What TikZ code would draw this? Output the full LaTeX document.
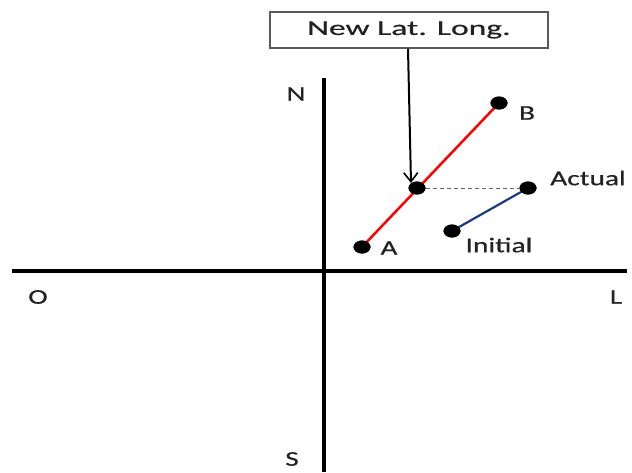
\documentclass[tikz,border=0pt]{standalone}
\usepackage{fontspec}
\setmainfont{Carlito}
\usetikzlibrary{arrows.meta,shapes.geometric}
\definecolor{txt}{HTML}{222222}
\definecolor{navy}{HTML}{1F3A7A}
\newcommand\wlab[1]{\scalebox{1.4}[1]{#1}}
\newcommand\wbox[1]{\scalebox{1.6}[1]{#1}}
\tikzset{
  axis/.style={line width=3.5pt, black},
  lab/.style={font=\fontsize{21}{24}\selectfont\addfontfeature{FakeBold=0.4}, text=txt, inner sep=0pt},
  dot/.style={fill=black, ellipse, minimum width=17pt, minimum height=13pt, inner sep=0pt},
}
\begin{document}
\begin{tikzpicture}[x=1pt,y=-1pt]
\useasboundingbox (0,0) rectangle (632,472);
% axes
\coordinate (xl) at (12,271);
\coordinate (xr) at (627,271);
\coordinate (yt) at (324,78);
\coordinate (yb) at (324,472);
\draw[axis] (xl) -- (xr);
\draw[axis] (yt) -- (yb);
% axis labels
\node[lab] (N) at (296,94) {\wlab{N}};
\node[lab] (S) at (292,459) {\wlab{S}};
\node[lab] (O) at (38,297) {\wlab{O}};
\node[lab] (L) at (616,297) {\wlab{L}};
% box
\node[lab, draw=black!65, line width=1.5pt, minimum width=278pt, minimum height=36pt, fill=white] (box) at (409,30) {\wbox{New Lat. Long.}};
% dots
\node[dot] (A) at (362,247) {};
\node[dot] (B) at (499,103) {};
\node[dot] (M) at (417,188) {};
\node[dot] (Ac) at (528,188) {};
\node[dot] (In) at (452,231) {};
% lines
\draw[red, line width=2.5pt] (A.center) -- (B.center);
\draw[navy, line width=2.2pt] (In.center) -- (Ac.center);
\draw[black!60, line width=1pt, dash pattern=on 4pt off 3pt] (M) -- (Ac);
\node[dot] at (A) {};
\node[dot] at (B) {};
\node[dot] at (M) {};
\node[dot] at (Ac) {};
\node[dot] at (In) {};
% arrow
\coordinate (tip) at (411,183);
\draw[line width=2pt, -{Straight Barb[length=9pt,width=14pt,line width=1.6pt]}] (box.south -| 408,0) -- (tip);
% labels
\node[lab] (Alab) at (389,248) {\wlab{A}};
\node[lab] (Blab) at (527,113) {\wlab{B}};
\node[lab] (Aclab) at (588,178) {\wlab{Actual}};
\node[lab] (Inlab) at (499,245) {\wlab{Initial}};
\end{tikzpicture}
\end{document}
